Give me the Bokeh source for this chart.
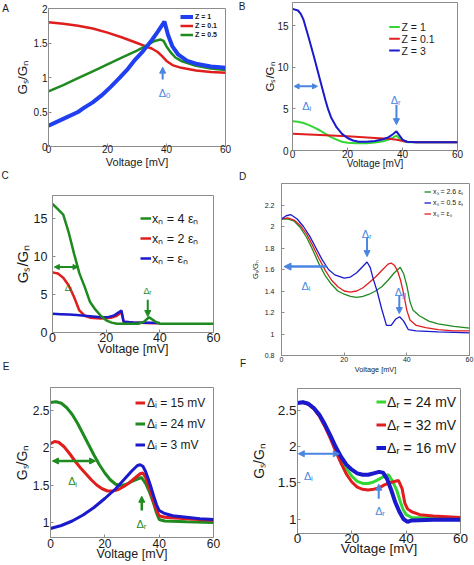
from bokeh.plotting import figure
from bokeh.layouts import row, column
from bokeh.models import Range1d, Label, Arrow, NormalHead, Legend, LegendItem
from bokeh.embed import file_html
from bokeh.resources import INLINE

FONT = "Liberation Sans"
AX = "#8c8c8c"
TXT = "#1a1a1a"
BLUE_A = "#1f3ff0"
BLUE = "#1a1acc"
RED = "#e01e1e"
DGREEN = "#1f8a1f"
LGREEN = "#33d633"
ARR = "#4a86e0"
YLABEL = "G\u209b/G\u2099"

# ---------------- data ----------------
volt_ticks = [0, 20, 40, 60]

# Panel A
a_ticks = [0, 0.5, 1, 1.5, 2]
a_tick_labels = ["0", "0.5", "1", "1.5", "2"]
a_v_blue = [0, 5, 10, 12, 15, 18, 21, 24, 27, 29, 32, 35, 37, 39.3, 40.5, 42, 44, 47, 50, 55, 60]
a_blue = [0.30, 0.40, 0.50, 0.56, 0.64, 0.74, 0.86, 0.99, 1.13, 1.24, 1.38, 1.54, 1.66, 1.81, 1.62, 1.45, 1.33, 1.24, 1.20, 1.16, 1.14]
a_v_red = [0, 5, 10, 15, 20, 25, 30, 33, 35, 37, 38.5, 40, 42, 45, 50, 55, 60]
a_red = [1.80, 1.78, 1.75, 1.71, 1.65, 1.58, 1.50, 1.45, 1.42, 1.37, 1.31, 1.24, 1.18, 1.14, 1.10, 1.08, 1.07]
a_v_green = [0, 5, 10, 15, 20, 25, 30, 33, 36, 38, 39, 40, 41.5, 43, 45, 50, 55, 60]
a_green = [0.80, 0.89, 0.99, 1.09, 1.19, 1.29, 1.39, 1.46, 1.53, 1.55, 1.53, 1.45, 1.36, 1.29, 1.24, 1.17, 1.13, 1.11]
a_names = ["Z = 1", "Z = 0.1", "Z = 0.5"]

# Panel B
b_ticks = [0, 5, 10, 15]
b_tick_labels = ["0", "5", "10", "15"]
b_v_blue = [0, 2, 3, 4, 6, 8, 10, 12, 13, 14, 16, 18, 20, 22, 24, 27, 30, 33, 35, 36.5, 37.8, 39, 40, 41.5, 45, 60]
b_blue = [17.0, 16.8, 16.4, 15.7, 13.4, 11.0, 8.5, 6.0, 4.9, 4.0, 2.8, 2.0, 1.5, 1.2, 1.05, 1.05, 1.15, 1.35, 1.6, 1.95, 2.3, 1.75, 1.3, 1.05, 1.0, 1.0]
b_v_green = [0, 2, 4, 6, 8, 10, 12, 14, 16, 18, 20, 23, 27, 30, 33, 35, 36.5, 37.8, 39, 40.5, 42, 60]
b_green = [3.5, 3.45, 3.3, 3.05, 2.75, 2.4, 2.0, 1.6, 1.3, 1.05, 0.92, 0.86, 0.88, 0.95, 1.1, 1.3, 1.55, 1.8, 1.4, 1.1, 1.0, 1.0]
b_v_red = [0, 10, 20, 30, 35, 38, 40, 42, 45, 60]
b_red = [2.0, 1.85, 1.7, 1.5, 1.4, 1.3, 1.15, 1.05, 1.0, 1.0]
b_names = ["Z = 1", "Z = 0.1", "Z = 3"]

# Panel C
c_ticks = [0, 5, 10, 15]
c_tick_labels = ["0", "5", "10", "15"]
c_v_green = [0, 2, 4, 6, 8, 10, 12, 14, 16, 18, 20, 22, 24, 32, 34, 36, 38, 40, 60]
c_green = [16.9, 16.2, 15.5, 13.2, 10.4, 7.8, 6.0, 4.0, 3.0, 2.2, 1.6, 1.3, 1.15, 1.15, 1.4, 2.0, 1.5, 1.15, 1.15]
c_v_red = [0, 2, 4, 6, 8, 10, 12, 14, 18, 22, 24, 25.7, 26.5, 30, 35, 40]
c_red = [7.9, 7.75, 7.2, 6.2, 4.7, 2.9, 2.2, 1.95, 1.85, 1.95, 2.2, 2.7, 1.4, 1.3, 1.25, 1.2]
c_v_blue = [0, 3, 6, 9, 12, 15, 18, 21, 23, 25.7, 26.5, 30, 35, 40]
c_blue = [2.45, 2.4, 2.35, 2.3, 2.2, 2.1, 2.0, 2.05, 2.25, 2.9, 1.4, 1.3, 1.28, 1.25]
c_names = ["x\u2099 = 4 \u03b5\u2099", "x\u2099 = 2 \u03b5\u2099", "x\u2099 = \u03b5\u2099"]

# Panel D
d_ticks = [0.8, 1.0, 1.2, 1.4, 1.6, 1.8, 2.0, 2.2]
d_tick_labels = ["0.8", "1", "1.2", "1.4", "1.6", "1.8", "2", "2.2"]
d_v_blue = [0, 1.5, 3, 5, 7, 9, 11, 13, 15, 17, 20, 22, 24, 26, 27.3, 28.3, 29.3, 30.5, 32, 33.5, 35, 36.5, 37.7, 39, 40.5, 43, 50, 60]
d_blue = [2.07, 2.10, 2.11, 2.07, 2.00, 1.91, 1.80, 1.69, 1.60, 1.55, 1.52, 1.53, 1.57, 1.63, 1.67, 1.62, 1.51, 1.40, 1.23, 1.08, 1.08, 1.14, 1.16, 1.12, 1.04, 1.03, 1.02, 1.01]
d_v_red = [0, 2, 4, 6, 8, 10, 12, 14, 16, 18, 20, 22, 24, 26, 28, 30, 32, 34, 35, 36, 37, 38, 39, 40, 41, 43, 46, 50, 55, 60]
d_red = [2.07, 2.08, 2.06, 2.01, 1.93, 1.82, 1.70, 1.59, 1.50, 1.44, 1.40, 1.39, 1.40, 1.43, 1.48, 1.53, 1.59, 1.65, 1.66, 1.64, 1.59, 1.50, 1.37, 1.22, 1.13, 1.08, 1.06, 1.04, 1.03, 1.03]
d_v_green = [0, 2, 4, 6, 8, 10, 12, 14, 16, 18, 20, 22, 24, 26, 28, 30, 32, 34, 36, 37.9, 39, 40, 41, 42, 44, 47, 50, 55, 60]
d_green = [2.07, 2.07, 2.05, 1.99, 1.90, 1.78, 1.65, 1.54, 1.46, 1.40, 1.37, 1.35, 1.34, 1.35, 1.37, 1.40, 1.44, 1.50, 1.57, 1.62, 1.56, 1.45, 1.30, 1.22, 1.17, 1.12, 1.095, 1.07, 1.055]
d_names = ["x\u209b = 2.6 \u03b5\u209b", "x\u209b = 0.5 \u03b5\u209b", "x\u209b = \u03b5\u209b"]

# Panel E
e_ticks = [1, 1.5, 2, 2.5]
e_tick_labels = ["1", "1.5", "2", "2.5"]
e_v_red = [0, 1.5, 3, 5, 7, 9, 11, 13, 15, 17, 19, 21, 23, 25, 27, 29, 31, 33, 34, 35, 36.5, 38, 39, 40, 42, 50, 60]
e_red = [2.05, 2.08, 2.07, 2.01, 1.92, 1.82, 1.73, 1.65, 1.57, 1.50, 1.45, 1.42, 1.42, 1.44, 1.48, 1.53, 1.59, 1.65, 1.66, 1.60, 1.45, 1.28, 1.17, 1.09, 1.07, 1.05, 1.03]
e_v_green = [0, 2, 4, 6, 8, 10, 12, 14, 16, 18, 20, 22, 24, 26, 28, 30, 32, 33.5, 35, 36.5, 38, 39, 40, 42, 50, 60]
e_green = [2.60, 2.61, 2.59, 2.53, 2.44, 2.32, 2.18, 2.04, 1.90, 1.77, 1.66, 1.57, 1.51, 1.49, 1.51, 1.55, 1.58, 1.60, 1.52, 1.40, 1.25, 1.13, 1.04, 1.02, 1.01, 1.00]
e_v_blue = [0, 4, 8, 12, 16, 20, 24, 27, 30, 32, 33, 34, 35, 36, 37, 38, 39, 40, 42, 45, 50, 55, 60]
e_blue = [0.92, 0.96, 1.02, 1.10, 1.20, 1.32, 1.45, 1.57, 1.69, 1.76, 1.77, 1.75, 1.68, 1.58, 1.47, 1.35, 1.24, 1.16, 1.12, 1.09, 1.07, 1.05, 1.04]
e_names = ["\u0394\u1d62 = 15 mV", "\u0394\u1d62 = 24 mV", "\u0394\u1d62 = 3 mV"]

# Panel F
f_ticks = [1, 1.5, 2, 2.5]
f_tick_labels = ["1", "1.5", "2", "2.5"]
f_v_green = [0, 2, 4, 6, 8, 10, 12, 14, 16, 18, 20, 22, 24, 26, 28, 30, 32, 33.5, 35, 36.5, 38, 39, 40, 42, 50, 60]
f_green = [2.60, 2.61, 2.59, 2.53, 2.43, 2.30, 2.14, 1.97, 1.82, 1.69, 1.59, 1.52, 1.49, 1.49, 1.51, 1.55, 1.59, 1.61, 1.52, 1.40, 1.22, 1.12, 1.06, 1.02, 1.01, 1.00]
f_v_red = [0, 2, 4, 6, 8, 10, 12, 14, 16, 18, 20, 22, 24, 26, 28, 30, 32, 34, 36, 37.2, 38.5, 39.5, 40.5, 42, 45, 50, 55, 60]
f_red = [2.60, 2.61, 2.58, 2.52, 2.42, 2.28, 2.12, 1.94, 1.77, 1.62, 1.51, 1.44, 1.41, 1.40, 1.41, 1.43, 1.47, 1.50, 1.52, 1.53, 1.42, 1.22, 1.14, 1.10, 1.06, 1.04, 1.03, 1.02]
f_v_blue = [0, 2, 4, 6, 8, 10, 12, 14, 16, 18, 20, 22, 24, 26, 28, 30, 31.5, 33, 34.5, 36, 37.5, 39, 40.5, 42, 50, 60]
f_blue = [2.60, 2.61, 2.59, 2.53, 2.44, 2.31, 2.16, 2.00, 1.86, 1.75, 1.68, 1.63, 1.61, 1.61, 1.63, 1.65, 1.64, 1.55, 1.40, 1.23, 1.10, 1.00, 0.96, 0.98, 0.99, 0.99]
f_names = ["\u0394\u1d63 = 24 mV", "\u0394\u1d63 = 32 mV", "\u0394\u1d63 = 16 mV"]


# ---------------- helpers ----------------
def panel(w, h, bl, br, bt, bb, xr, yr):
    p = figure(width=w, height=h, x_range=Range1d(*xr), y_range=Range1d(*yr),
               output_backend="svg", toolbar_location=None, frame_align=False,
               min_border_left=bl, min_border_right=br, min_border_top=bt, min_border_bottom=bb,
               background_fill_color="white", border_fill_color="white")
    p.grid.visible = False
    p.outline_line_color = AX
    p.outline_line_width = 1
    g = dict(fl=bl, fr=w - br, ft=bt, fb=h - bb, x0=xr[0], x1=xr[1], y0=yr[0], y1=yr[1])
    return p, g


def strip(w, h, ox, oy):
    s = figure(width=w, height=h, x_range=Range1d(0, w), y_range=Range1d(0, h),
               output_backend="svg", toolbar_location=None, frame_align=False,
               x_axis_location=None, y_axis_location=None,
               min_border=0, min_border_left=0, min_border_right=0, min_border_top=0, min_border_bottom=0,
               background_fill_color="white", border_fill_color="white", outline_line_color=None)
    s.grid.visible = False
    return s, dict(ox=ox, oy=oy, h=h)


def axes(p, yticks, ylabels, fs_tick, fs_xlab, xstand, xlabstand, ystand, fs_ylab, ylabstand):
    for ax in (p.xaxis[0], p.yaxis[0]):
        ax.axis_line_color = AX
        ax.major_tick_line_color = AX
        ax.major_tick_in = 3
        ax.major_tick_out = 0
        ax.minor_tick_line_color = None
        ax.major_label_text_font = FONT
        ax.major_label_text_font_size = f"{fs_tick}px"
        ax.major_label_text_color = TXT
        ax.axis_label_text_font = FONT
        ax.axis_label_text_font_style = "normal"
        ax.axis_label_text_color = TXT
    p.xaxis.ticker = volt_ticks
    p.yaxis.ticker = yticks
    p.yaxis.major_label_overrides = {v: s for v, s in zip(yticks, ylabels)}
    p.xaxis.major_label_standoff = xstand
    p.yaxis.major_label_standoff = ystand
    p.xaxis.axis_label = "Voltage [mV]"
    p.xaxis.axis_label_text_font_size = f"{fs_xlab}px"
    p.xaxis.axis_label_standoff = xlabstand
    p.yaxis.axis_label = YLABEL
    p.yaxis.axis_label_text_font_size = f"{fs_ylab}px"
    p.yaxis.axis_label_standoff = ylabstand


def kx(g):
    return (g["x1"] - g["x0"]) / (g["fr"] - g["fl"])


def ky(g):
    return (g["y1"] - g["y0"]) / (g["fb"] - g["ft"])


def px2d(g, cx, cy):
    return g["x0"] + (cx - g["fl"]) * kx(g), g["y1"] - (cy - g["ft"]) * ky(g)


def text(p, x, y, s, fs, color=TXT, align="left", baseline="alphabetic"):
    p.add_layout(Label(x=x, y=y, text=s, text_font=FONT, text_font_size=f"{fs:.1f}px",
                       text_color=color, text_align=align, text_baseline=baseline))


def letter(s, gs, rx, ry, ch):
    text(s, rx - gs["ox"], gs["h"] - (ry - gs["oy"]), ch, 10, align="center", baseline="middle")


def delta(p, g, x, y, sub, fs, color):
    wd = 0.668 * fs
    ws = 0.45 * 0.7 * fs
    left = x - (wd + ws) / 2 * kx(g)
    base = y - 0.35 * fs * ky(g)
    text(p, left, base, "\u0394", fs, color)
    text(p, left + wd * kx(g), base - 0.25 * fs * ky(g), sub, 0.7 * fs, color)


def arrow(p, xs, ys, xe, ye, color, lw, both=False, size=6):
    head = dict(size=size, fill_color=color, line_color=color, line_width=1)
    p.add_layout(Arrow(x_start=xs, y_start=ys, x_end=xe, y_end=ye, line_color=color, line_width=lw,
                       end=NormalHead(**head), start=NormalHead(**head) if both else None))


def legend(p, items, margin, pitch, gw, st, lw, fs, style="normal"):
    leg = Legend(items=[LegendItem(label=t, renderers=[r]) for t, r in items],
                 location="top_right", margin=margin, padding=0, spacing=0,
                 glyph_width=gw, glyph_height=pitch, label_height=pitch, label_width=lw,
                 label_standoff=st,
                 label_text_font=FONT, label_text_font_size=f"{fs}px", label_text_font_style=style,
                 label_text_color=TXT, border_line_color=None, background_fill_alpha=0)
    p.add_layout(leg)


def key_box(p, g, entries, x_line0, x_line1, x_text, y_first, pitch, fs):
    # legend key drawn as short line samples with their labels (panel pixel placement)
    for i, (name, color, lw) in enumerate(entries):
        cy = y_first + i * pitch
        xa, ya = px2d(g, x_line0, cy)
        xb, _ = px2d(g, x_line1, cy)
        xt, _ = px2d(g, x_text, cy)
        p.add_layout(Arrow(x_start=xa, y_start=ya, x_end=xb, y_end=ya, line_color=color,
                           line_width=lw, start=None, end=None))
        text(p, xt, ya, name, fs, baseline="middle")


# ---------------- panel A ----------------
sa, gsa = strip(10, 170, 0, 0)
pa, ga = panel(226, 170, 38, 11, 8, 23, (0, 60), (0, 2))
axes(pa, a_ticks, a_tick_labels, 10, 11, -2, 0, 1, 13.5, 1)
ra = pa.line(a_v_red, a_red, line_color=RED, line_width=2.5)
ga_ = pa.line(a_v_green, a_green, line_color=DGREEN, line_width=2.5)
ba = pa.line(a_v_blue, a_blue, line_color=BLUE_A, line_width=4)
legend(pa, [(a_names[0], ba), (a_names[1], ra), (a_names[2], ga_)], 4, 9, 13, 2, 26, 7, "bold")
arrow(pa, 38.7, 0.97, 38.7, 1.15, ARR, 2)
delta(pa, ga, 39.2, 0.83, "0", 11, ARR)
letter(sa, gsa, 5, 7.5, "A")

# ---------------- panel B ----------------
sb, gsb = strip(11, 171, 236, 0)
pb, gb = panel(227, 171, 45, 17, 2, 18, (0, 60), (0, 17.76))
axes(pb, b_ticks, b_tick_labels, 10, 10, -1, -3, 4, 11.5, -2)
bg = pb.line(b_v_green, b_green, line_color=LGREEN, line_width=2)
br_ = pb.line(b_v_red, b_red, line_color=RED, line_width=2)
bb_ = pb.line(b_v_blue, b_blue, line_color=BLUE, line_width=2)
key_box(pb, gb, [(b_names[0], LGREEN, 2), (b_names[1], RED, 2), (b_names[2], BLUE, 2)],
        388.7 - 247, 399.3 - 247, 401 - 247, 27, 12, 10.5)
arrow(pb, 0.6, 7.7, 9.1, 7.7, ARR, 2, both=True, size=5)
delta(pb, gb, 5.5, 5.8, "i", 11, ARR)
arrow(pb, 37.8, 5.5, 37.8, 3.1, ARR, 2, size=6)
delta(pb, gb, 37.7, 6.5, "r", 11, ARR)
letter(sb, gsb, 241.5, 6, "B")

# ---------------- panel C ----------------
sc, gsc = strip(10, 190, 0, 170)
pc, gc = panel(226, 190, 38, 23, 25, 28, (0, 60), (0, 18))
axes(pc, c_ticks, c_tick_labels, 12.5, 12.5, 0, -3, 5, 15, 0)
cr = pc.line(c_v_red, c_red, line_color=RED, line_width=2.5)
cb = pc.line(c_v_blue, c_blue, line_color=BLUE, line_width=2.5)
cg = pc.line(c_v_green, c_green, line_color=DGREEN, line_width=2.5)
legend(pc, [(c_names[0], cg), (c_names[1], cr), (c_names[2], cb)], 13, 20, 11, 1, 48, 12.5)
arrow(pc, 0.7, 8.6, 9.5, 8.6, DGREEN, 2, both=True, size=5)
delta(pc, gc, 6.2, 6.3, "i", 9, DGREEN)
arrow(pc, 35.5, 4.3, 35.5, 2.1, DGREEN, 2, size=6)
delta(pc, gc, 35.5, 5.9, "r", 9, DGREEN)
letter(sc, gsc, 4.5, 175, "C")

# ---------------- panel D ----------------
sd, gsd = strip(11, 205, 236, 171)
pd_, gd = panel(227, 205, 29, 5, 12, 19, (0, 60), (0.8, 2.4))
axes(pd_, d_ticks, d_tick_labels, 7, 7.3, 1, 0, 7, 7.5, 2)
dg = pd_.line(d_v_green, d_green, line_color=DGREEN, line_width=1.3)
dr = pd_.line(d_v_red, d_red, line_color=RED, line_width=1.3)
db = pd_.line(d_v_blue, d_blue, line_color=BLUE, line_width=1.3)
legend(pd_, [(d_names[0], dg), (d_names[1], db), (d_names[2], dr)], 3, 11, 7, 2, 33, 7)
arrow(pd_, 14.3, 1.627, 0.8, 1.627, ARR, 2.5, size=7)
delta(pd_, gd, 8.1, 1.48, "i", 11, ARR)
arrow(pd_, 27.3, 1.90, 27.3, 1.72, ARR, 2, size=6)
delta(pd_, gd, 27.3, 1.97, "r", 11, ARR)
arrow(pd_, 37.6, 1.36, 37.6, 1.19, ARR, 2, size=6)
delta(pd_, gd, 37.8, 1.43, "g", 11, ARR)
letter(sd, gsd, 242, 175.5, "D")
letter(sd, gsd, 242.5, 362.5, "F")

# ---------------- panel E ----------------
se, gse = strip(10, 205, 0, 360)
pe, ge = panel(226, 205, 33, 23, 27, 28, (0, 60), (0.8, 2.8))
axes(pe, e_ticks, e_tick_labels, 12, 12.5, 1, -4, 1, 14, 0)
eg = pe.line(e_v_green, e_green, line_color=DGREEN, line_width=3)
er = pe.line(e_v_red, e_red, line_color=RED, line_width=3)
eb = pe.line(e_v_blue, e_blue, line_color=BLUE, line_width=3)
legend(pe, [(e_names[0], er), (e_names[1], eg), (e_names[2], eb)], 5, 21, 10, 2, 61, 12)
arrow(pe, 0.7, 1.82, 16.6, 1.82, DGREEN, 2.5, both=True, size=6)
delta(pe, ge, 8.4, 1.60, "i", 11, DGREEN)
arrow(pe, 33.6, 1.16, 33.6, 1.35, DGREEN, 2.5, size=6)
delta(pe, ge, 33.6, 1.03, "r", 11, DGREEN)
letter(se, gse, 5.5, 365.5, "E")

# ---------------- panel F ----------------
sf, gsf = strip(11, 189, 236, 376)
pf, gf = panel(227, 189, 43, 14, 12, 32, (0, 60), (0.8, 2.8))
axes(pf, f_ticks, f_tick_labels, 13.5, 13.5, 0, -5, 1, 14, 8)
fg = pf.line(f_v_green, f_green, line_color=LGREEN, line_width=3)
fr = pf.line(f_v_red, f_red, line_color=RED, line_width=3)
fb = pf.line(f_v_blue, f_blue, line_color=BLUE, line_width=4)
legend(pf, [(f_names[0], fg), (f_names[1], fr), (f_names[2], fb)], 2, 23, 10, 1, 71, 14)
arrow(pf, 0.3, 1.9, 15.4, 1.9, ARR, 2, both=True, size=6)
delta(pf, gf, 4.3, 1.65, "i", 11, ARR)
arrow(pf, 29.9, 1.28, 29.9, 1.48, ARR, 2, size=6)
delta(pf, gf, 30.5, 1.165, "r", 11, ARR)

left = column(row(sa, pa), row(sc, pc), row(se, pe))
right = column(row(sb, pb), row(sd, pd_), row(sf, pf))
layout = row(left, right)
open("out.html", "w").write(file_html(layout, INLINE))
